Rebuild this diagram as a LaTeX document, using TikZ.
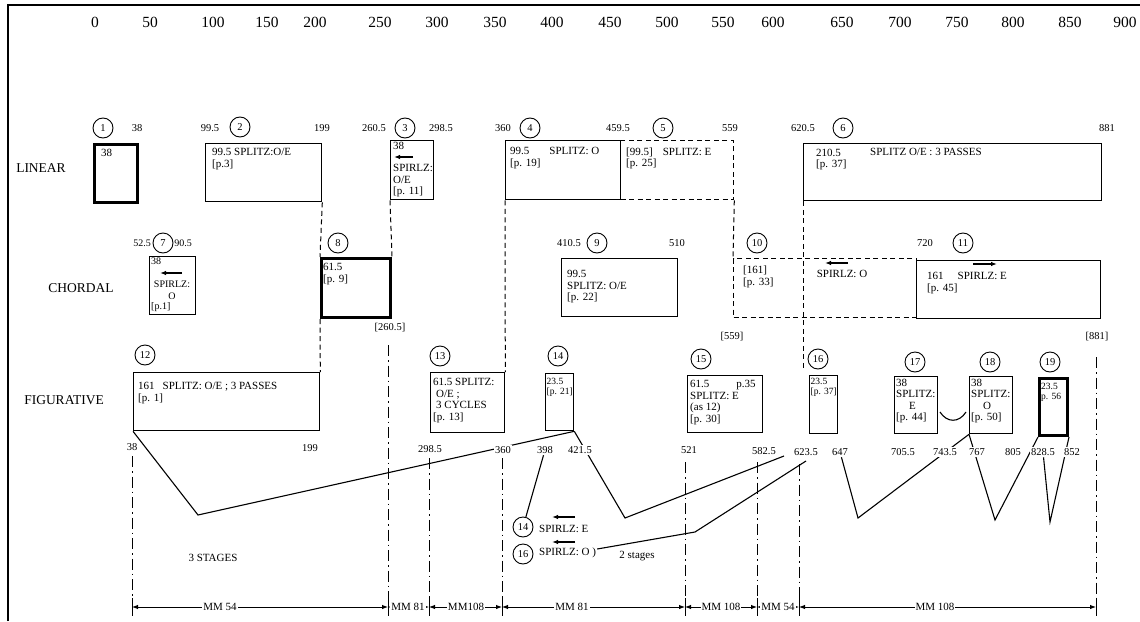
\documentclass[tikz,border=0pt]{standalone}
\usepackage{fontspec}
\setmainfont{Liberation Serif}
\usetikzlibrary{arrows.meta}
\pgfdeclarelayer{bg}
\pgfsetlayers{bg,main}
\newcommand\myfs[2]{\fontsize{#1}{#2}\selectfont}
\begin{document}
\begin{tikzpicture}[x=1pt,y=-1pt,
  box/.style={draw, line width=1.3pt, rectangle, inner sep=0pt, anchor=north west},
  thickbox/.style={box, line width=3pt},
  dbox/.style={box, dash pattern=on 5pt off 3.5pt},
  circ/.style={circle, draw, line width=0.9pt, minimum size=20pt, inner sep=0pt, font=\myfs{10.5}{11}},
  num/.style={font=\myfs{10.5}{11}, inner sep=1.5pt},
  numw/.style={num, fill=white},
  axisnum/.style={font=\myfs{15.5}{16}, inner sep=0pt},
  rowlab/.style={font=\myfs{13.5}{14}, inner sep=0pt},
  intext/.style={font=\myfs{11}{11.5}, align=left, anchor=north west, inner sep=0pt},
  smalltext/.style={intext, font=\myfs{9.5}{10}},
  txt/.style={font=\myfs{11}{12}, inner sep=1pt},
  conn/.style={line width=1.1pt},
  dashv/.style={line width=1pt, dash pattern=on 5pt off 3.5pt},
  dashdot/.style={line width=1pt, dash pattern=on 11pt off 4pt on 1.5pt off 4pt},
  harr/.style={->, >={Latex[length=6pt,width=4.5pt]}, line width=1.2pt},
  dim/.style={<->, >={Latex[length=6pt,width=4.5pt]}, line width=0.9pt},
  dimlab/.style={font=\myfs{11}{11}, fill=white, inner sep=1pt},
]
\useasboundingbox (0,0) rectangle (1140,621);
\draw[line width=2.5pt] (8,621) -- (8,5) -- (1140,5);

% scale
\foreach \v/\x in {0/95,50/150,100/213,150/267,200/315,250/380,300/437,350/495,400/552,450/610,500/667,550/723,600/773,650/842,700/900,750/957,800/1013,850/1070,900/1125}
  \node[axisnum] (ax\v) at (\x,22) {\v};

% row labels
\node[rowlab] (rlin) at (41,168) {LINEAR};
\node[rowlab] (rcho) at (81,288) {CHORDAL};
\node[rowlab] (rfig) at (64,400) {FIGURATIVE};

% ---------- LINEAR ----------
\node[circ] (c1) at (103,128) {1};
\node[num] (n1b) at (137,128) {38};
\node[num] (n2a) at (210,128) {99.5};
\node[circ] (c2) at (240,127) {2};
\node[num] (n2b) at (322,128) {199};
\node[num] (n3a) at (374,128) {260.5};
\node[circ] (c3) at (405,128) {3};
\node[num] (n3b) at (441,128) {298.5};
\node[num] (n4a) at (503,128) {360};
\node[circ] (c4) at (530,128) {4};
\node[num] (n5a) at (618,128) {459.5};
\node[circ] (c5) at (663,128) {5};
\node[num] (n5b) at (730,128) {559};
\node[num] (n6a) at (803,128) {620.5};
\node[circ] (c6) at (843,128) {6};
\node[num] (n6b) at (1107,128) {881};

\node[dbox, minimum width=113pt, minimum height=59pt] (b5) at (620,140) {};
\node[thickbox, minimum width=43pt, minimum height=58pt] (b1) at (93,143) {};
\node[box, minimum width=116pt, minimum height=58pt] (b2) at (205,143) {};
\node[box, minimum width=43pt, minimum height=59pt] (b3) at (390,140) {};
\node[box, minimum width=115pt, minimum height=59pt] (b4) at (505,140) {};
\node[box, minimum width=298pt, minimum height=57pt] (b6) at (803,143) {};

\node[intext] (t1) at (101,148.5) {38};
\node[intext] (t2) at (212,148.5) {99.5 SPLITZ:O/E\\{}[p.3]};
\node[intext] (t3a) at (393,141.5) {38};
\draw[harr] (413,157) -- (394,157);
\node[intext] (t3b) at (393,164.5) {SPIRLZ:\\O/E\\{}[p. 11]};
\node[intext] (t4) at (510,147.5) {99.5\hspace{20pt}SPLITZ: O\\{}[p. 19]};
\node[intext] (t5) at (626,147.5) {[99.5]\hspace{10pt}SPLITZ: E\\{}[p. 25]};
\node[intext] (t6a) at (816,148.5) {210.5\\{}[p. 37]};
\node[intext] (t6b) at (870,148.5) {SPLITZ O/E : 3 PASSES};

% ---------- CHORDAL ----------
\node[num, font=\myfs{10}{10}] (n7a) at (142,243) {52.5};
\node[circ] (c7) at (163,243) {7};
\node[num, font=\myfs{10}{10}] (n7b) at (183,243) {90.5};
\node[circ] (c8) at (338,243) {8};
\node[num] (n9a) at (569,243) {410.5};
\node[circ] (c9) at (597,243) {9};
\node[num] (n9b) at (677,243) {510};
\node[circ] (c10) at (757,243) {10};
\node[num] (n11a) at (925,243) {720};
\node[circ] (c11) at (963,243) {11};

\node[dbox, minimum width=183pt, minimum height=59pt] (b10) at (733,258) {};
\node[box, minimum width=46pt, minimum height=58pt] (b7) at (149,256) {};
\node[thickbox, minimum width=69pt, minimum height=59pt] (b8) at (320,257) {};
\node[box, minimum width=116pt, minimum height=58pt] (b9) at (561,258) {};
\node[box, minimum width=184pt, minimum height=58pt] (b11) at (916,260) {};

\node[intext, font=\myfs{10}{10.5}] (t7a) at (151,257.5) {38};
\draw[harr] (182,273) -- (160,273);
\node[txt, font=\myfs{10}{10.5}, inner sep=0pt] (t7b) at (172,284) {SPIRLZ:};
\node[txt, font=\myfs{10}{10.5}, inner sep=0pt] (t7c) at (172,296) {O};
\node[intext, font=\myfs{10}{10.5}] (t7d) at (151,302.5) {[p.1]};
\node[intext] (t8) at (323,263.5) {61.5\\{}[p. 9]};
\node[intext] (t9) at (567,270.5) {99.5\\SPLITZ: O/E\\{}[p. 22]};
\node[intext] (t10) at (743,266) {[161]\\{}[p. 33]};
\draw[harr] (848,263) -- (825,263);
\node[txt, inner sep=0pt] (t10b) at (842,274) {SPIRLZ: O};
\draw[harr] (973,264) -- (997,264);
\node[intext] (t11) at (927,272.5) {161\hspace{14pt}SPIRLZ: E\\{}[p. 45]};

\node[num] (n8c) at (390,328) {[260.5]};
\node[num] (n10c) at (732,337) {[559]};
\node[num] (n11c) at (1097,337) {[881]};

% ---------- FIGURATIVE ----------
\node[circ] (c12) at (145,355) {12};
\node[circ] (c13) at (440,356) {13};
\node[circ] (c14) at (558,356) {14};
\node[circ] (c15) at (701,359) {15};
\node[circ] (c16) at (818,359) {16};
\node[circ] (c17) at (915,362) {17};
\node[circ] (c18) at (990,362) {18};
\node[circ] (c19) at (1050,362) {19};

\node[box, minimum width=186pt, minimum height=58pt] (b12) at (133,372) {};
\node[box, minimum width=74pt, minimum height=60pt] (b13) at (430,372) {};
\node[box, minimum width=28pt, minimum height=57pt] (b14) at (545,373) {};
\node[box, minimum width=75pt, minimum height=57pt] (b15) at (687,375) {};
\node[box, minimum width=28pt, minimum height=58pt] (b16) at (809,375) {};
\node[box, minimum width=43pt, minimum height=57pt] (b17) at (894,376) {};
\node[box, minimum width=43pt, minimum height=57pt] (b18) at (969,376) {};
\node[thickbox, minimum width=28pt, minimum height=57pt] (b19) at (1038,377) {};

\node[intext] (t12) at (138,382.5) {161\hspace{8pt}SPLITZ: O/E ; 3 PASSES\\{}[p. 1]};
\node[intext] (t13) at (433,378.5) {61.5 SPLITZ:\\\hspace*{3pt}O/E ;\\\hspace*{3pt}3 CYCLES\\{}[p. 13]};
\node[smalltext] (t14) at (546.5,378.5) {23.5\\{}[p. 21]};
\node[intext] (t15) at (690,380.5) {61.5\hspace{27pt}p.35\\SPLITZ: E\\(as 12)\\{}[p. 30]};
\node[smalltext] (t16) at (810.5,378.5) {23.5\\{}[p. 37]};
\node[intext] (t17) at (896,378.5) {38\\SPLITZ:\\\hspace*{13pt}E\\{}[p. 44]};
\node[intext] (t18) at (971,378.5) {38\\SPLITZ:\\\hspace*{12pt}O\\{}[p. 50]};
\node[smalltext] (t19) at (1041,383.5) {23.5\\p. 56};

% number line labels
\node[numw] (l38) at (132,447) {38};
\node[numw] (l199) at (310,448) {199};
\node[numw] (l2985) at (430,449) {298.5};
\node[numw] (l360) at (503,450) {360};
\node[numw] (l398) at (545,450) {398};
\node[numw] (l4215) at (580,450) {421.5};
\node[numw] (l521) at (689,450) {521};
\node[numw] (l5825) at (764,451) {582.5};
\node[numw] (l6235) at (806,452) {623.5};
\node[numw] (l647) at (840,452) {647};
\node[numw] (l7055) at (903,452) {705.5};
\node[numw] (l7435) at (945,452) {743.5};
\node[numw] (l767) at (977,452) {767};
\node[numw] (l805) at (1013,452) {805};
\node[numw] (l8285) at (1043,452) {828.5};
\node[numw] (l852) at (1072,452) {852};

% lower notes
\node[circ] (c14b) at (523,527) {14};
\node[circ] (c16b) at (523,554) {16};
\draw[harr] (575,517) -- (552,517);
\node[txt, anchor=west] (s14) at (538,529) {SPIRLZ: E};
\draw[harr] (575,542) -- (552,542);
\node[txt, anchor=west] (s16) at (538,553) {SPIRLZ: O )};
\node[txt] (st2) at (637,556) {2 stages};
\node[txt] (st3) at (213,558) {3 STAGES};

% dimension labels
\node[dimlab] (mm1) at (220,607) {MM 54};
\node[dimlab] (mm2) at (408,607) {MM 81};
\node[dimlab] (mm3) at (466,607) {MM108};
\node[dimlab] (mm4) at (572,607) {MM 81};
\node[dimlab] (mm5) at (721,607) {MM 108};
\node[dimlab] (mm6) at (778,607) {MM 54};
\node[dimlab] (mm7) at (935,607) {MM 108};

\coordinate (v1) at (198,515);
\coordinate (v2) at (625,518);
\coordinate (e2) at (784,456);
\coordinate (v3) at (695,532);
\coordinate (e3) at (806,461);
\coordinate (v5) at (858,518);
\coordinate (v6) at (995,520);
\coordinate (v7) at (1050,522);
\coordinate (d6) at (803,368);

\begin{pgfonlayer}{bg}
  % dashed projections
  \draw[dashv] (b2.south east) -- (b8.north west);
  \draw[dashv] (b8.south west) -- (b12.north east);
  \draw[dashv] (b3.south west) -- (b8.north east);
  \draw[dashv] (b4.south west) -- (b13.north east);
  \draw[dashv] (b5.south east) -- (b10.north west);
  \draw[dashv] (b6.south west) -- (d6);
  % time markers
  \foreach \x/\t in {132/456, 388/345, 429/458, 502/458, 685/462, 757/462, 799/464, 1096/357}
    \draw[dashdot] (\x,\t) -- (\x,612);
  % dimension line
  \foreach \a/\b in {132/388, 388/429, 429/502, 502/685, 685/757, 757/799, 799/1096}
    \draw[dim] (\a,607) -- (\b,607);
  \foreach \a in {132,388,429,502,685,757,799,1096}
    \draw[line width=1pt] (\a,598) -- (\a,616);
  % stage connectors
  \draw[conn] (b12.south west) -- (v1) -- (b14.south east);
  \draw[conn] (b14.south east) -- (v2) -- (e2);
  \draw[conn] ([yshift=4pt]s16.east) -- (v3) -- (e3);
  \draw[conn] (l398) -- (c14b);
  \draw[conn] (l647) -- (v5) -- (b18.south west);
  \draw[conn] (b18.south west) -- (v6) -- (b19.south west);
  \draw[conn] (l8285) -- (v7) -- (b19.south east);
  \draw[conn] (940,412) .. controls (947,423) and (959,423) .. (966,412);
\end{pgfonlayer}
\end{tikzpicture}
\end{document}
